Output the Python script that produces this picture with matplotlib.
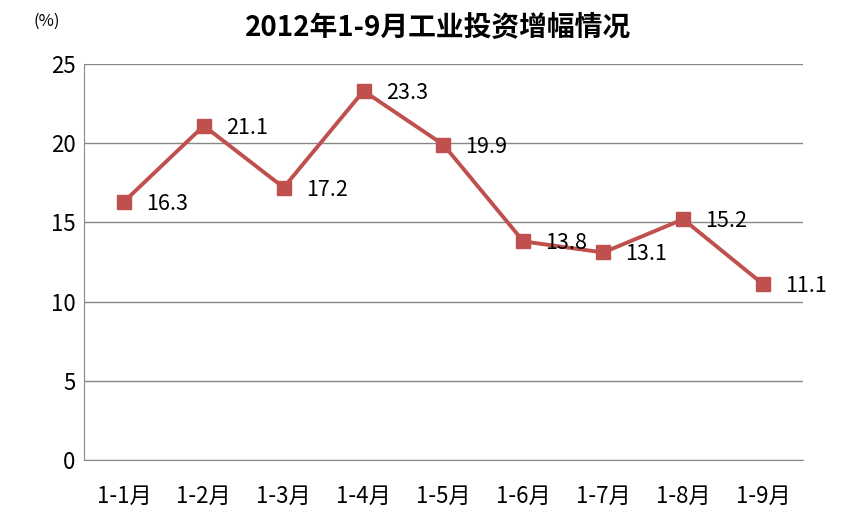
import matplotlib
matplotlib.use("Agg")
import matplotlib.pyplot as plt

plt.rcParams["font.family"] = ["Noto Sans CJK SC", "DejaVu Sans"]

months = ["1-1月", "1-2月", "1-3月", "1-4月", "1-5月", "1-6月", "1-7月", "1-8月", "1-9月"]
growth = [16.3, 21.1, 17.2, 23.3, 19.9, 13.8, 13.1, 15.2, 11.1]

LINE_COLOR = "#C0504D"

fig = plt.figure(figsize=(8.55, 5.16), dpi=100)
ax = fig.add_axes([0.0982, 0.1085, 0.841, 0.7675])

x = list(range(len(months)))
ax.plot(x, growth, color=LINE_COLOR, linewidth=2.8, marker="s", markersize=10,
        markerfacecolor=LINE_COLOR, markeredgecolor=LINE_COLOR, zorder=3)
for xi, v in zip(x, growth):
    ax.annotate(f"{v:.1f}", (xi, v), xytext=(22, -2), textcoords="offset pixels",
                ha="left", va="center", fontsize=15.5, color="black")

ax.set_xlim(-0.5, len(months) - 0.5)
ax.set_ylim(0, 25)
ax.set_yticks([0, 5, 10, 15, 20, 25])
ax.set_xticks(x)
ax.set_xticklabels(months)
ax.tick_params(axis="both", length=0, labelsize=16)
ax.tick_params(axis="x", pad=18)
ax.tick_params(axis="y", pad=6)
ax.grid(axis="y", color="#888888", linewidth=1)
ax.set_axisbelow(True)
for side in ["top", "right"]:
    ax.spines[side].set_visible(False)
for side in ["left", "bottom"]:
    ax.spines[side].set_color("#888888")

fig.text(0.512, 0.945, "2012年1-9月工业投资增幅情况", ha="center", va="center",
         fontsize=20, fontweight="bold")
fig.text(0.055, 0.958, "(%)", ha="center", va="center", fontsize=12)

fig.savefig("out.png", dpi=100)
